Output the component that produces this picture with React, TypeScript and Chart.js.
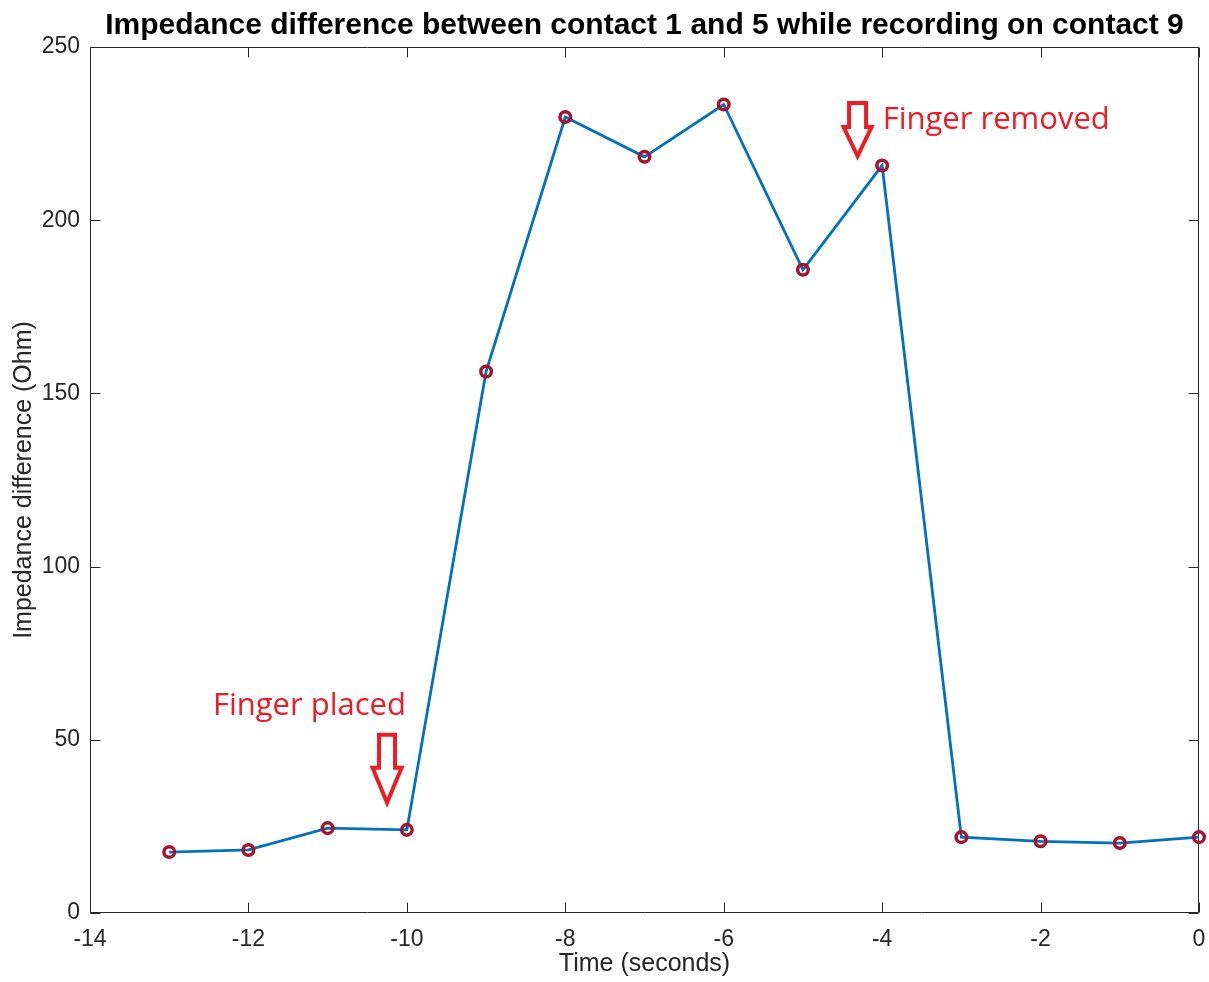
import React, { useEffect, useRef } from 'react';
import { Chart, registerables } from 'chart.js';

Chart.register(...registerables);

// ---- data ----
const timeSeconds = [-13, -12, -11, -10, -9, -8, -7, -6, -5, -4, -3, -2, -1, 0];
const impedanceOhm = [17.6, 18.2, 24.5, 24.0, 156.3, 229.8, 218.3, 233.4, 185.7, 215.8, 21.9, 20.7, 20.2, 21.9];
const xTicks = [-14, -12, -10, -8, -6, -4, -2, 0];
const yTicks = [0, 50, 100, 150, 200, 250];

const titleText = 'Impedance difference between contact 1 and 5 while recording on contact 9';
const xLabel = 'Time (seconds)';
const yLabel = 'Impedance difference (Ohm)';

// annotations (data coordinates)
const noteTexts = ['Finger placed', 'Finger removed'];
const noteX = [-11.23, -2.56];
const noteY = [59.8, 228.9];
const arrowTipX = [-10.25, -4.31];
const arrowTipY = [31.8, 218.5];

const AXIS_COLOR = '#262626';
const NOTE_COLOR = '#ED1C24';

// arrow shapes in pixels: [totalHeight, shaftWidth, headWidth, headHeight]
const arrowShapes = [
  [68, 16, 29, 35],
  [53, 17, 28, 29],
];

const framePlugin = {
  id: 'frame',
  beforeDatasetsDraw(chart: any) {
    const { ctx, chartArea, scales } = chart;
    const { left, right, top, bottom } = chartArea;
    const x = scales.x;
    const y = scales.y;
    ctx.save();
    ctx.strokeStyle = AXIS_COLOR;
    ctx.lineWidth = 1;
    const L = Math.round(left) + 0.5;
    const R = Math.round(right) - 0.5;
    const T = Math.round(top) + 0.5;
    const B = Math.round(bottom) - 0.5;
    ctx.beginPath();
    ctx.rect(L, T, R - L, B - T);
    const tl = 10;
    xTicks.forEach((v) => {
      const px = Math.round(x.getPixelForValue(v)) + 0.5;
      ctx.moveTo(px, B);
      ctx.lineTo(px, B - tl);
      ctx.moveTo(px, T);
      ctx.lineTo(px, T + tl);
    });
    yTicks.forEach((v) => {
      const py = Math.round(y.getPixelForValue(v)) + 0.5;
      ctx.moveTo(L, py);
      ctx.lineTo(L + tl, py);
      ctx.moveTo(R, py);
      ctx.lineTo(R - tl, py);
    });
    ctx.stroke();
    ctx.restore();
  },
  afterDraw(chart: any) {
    const { ctx, chartArea, scales } = chart;
    const x = scales.x;
    const y = scales.y;
    ctx.save();
    // title
    ctx.fillStyle = '#000000';
    ctx.font = 'bold 30px "Liberation Sans", Arial, sans-serif';
    ctx.textAlign = 'center';
    ctx.textBaseline = 'middle';
    ctx.fillText(titleText, (chartArea.left + chartArea.right) / 2, 26);

    // notes
    ctx.fillStyle = NOTE_COLOR;
    ctx.font = '31px "Open Sans", sans-serif';
    noteTexts.forEach((t, i) => {
      ctx.fillText(t, x.getPixelForValue(noteX[i]), y.getPixelForValue(noteY[i]));
    });

    // arrows (outlined)
    ctx.strokeStyle = NOTE_COLOR;
    ctx.lineWidth = 4;
    ctx.lineJoin = 'miter';
    arrowTipX.forEach((tx, i) => {
      const [h, sw, hw, hh] = arrowShapes[i];
      const px = x.getPixelForValue(tx);
      const py = y.getPixelForValue(arrowTipY[i]);
      ctx.beginPath();
      ctx.moveTo(px, py);
      ctx.lineTo(px - hw / 2, py - hh);
      ctx.lineTo(px - sw / 2, py - hh);
      ctx.lineTo(px - sw / 2, py - h);
      ctx.lineTo(px + sw / 2, py - h);
      ctx.lineTo(px + sw / 2, py - hh);
      ctx.lineTo(px + hw / 2, py - hh);
      ctx.closePath();
      ctx.stroke();
    });
    ctx.restore();
  },
};

export default function App() {
  const ref = useRef<HTMLCanvasElement>(null);
  useEffect(() => {
    document.body.style.margin = '0';
    const canvas = ref.current;
    if (!canvas) return;
    const chart = new Chart(canvas, {
      type: 'line',
      data: {
        datasets: [
          {
            data: timeSeconds.map((t, i) => ({ x: t, y: impedanceOhm[i] })),
            borderColor: '#0072BD',
            borderWidth: 2.8,
            backgroundColor: 'rgba(0,0,0,0)',
            pointRadius: 5.3,
            pointBorderWidth: 3.5,
            pointBorderColor: '#A2142F',
            pointBackgroundColor: 'rgba(0,0,0,0)',
            tension: 0,
            clip: false as any,
          },
        ],
      },
      options: {
        animation: false,
        responsive: false,
        maintainAspectRatio: false,
        devicePixelRatio: 1,
        layout: { padding: { top: 47, right: 10, left: 0, bottom: 0 } },
        plugins: { legend: { display: false }, tooltip: { enabled: false }, title: { display: false } },
        scales: {
          x: {
            type: 'linear',
            min: -14,
            max: 0,
            afterBuildTicks: (s: any) => {
              s.ticks = xTicks.map((v) => ({ value: v }));
            },
            afterFit: (s: any) => {
              s.height = 69;
              s.paddingLeft = 0;
              s.paddingRight = 0;
            },
            grid: { display: false, drawTicks: false },
            border: { display: false },
            ticks: {
              color: AXIS_COLOR,
              font: { family: '"Liberation Sans", Arial, sans-serif', size: 23 },
              padding: 13,
              maxRotation: 0,
              autoSkip: false,
            },
            title: {
              display: true,
              text: xLabel,
              color: AXIS_COLOR,
              font: { family: '"Liberation Sans", Arial, sans-serif', size: 25 },
              padding: { top: 0, bottom: 3 },
            },
          },
          y: {
            type: 'linear',
            min: 0,
            max: 250,
            afterBuildTicks: (s: any) => {
              s.ticks = yTicks.map((v) => ({ value: v }));
            },
            afterFit: (s: any) => {
              s.width = 90;
              s.paddingTop = 0;
              s.paddingBottom = 0;
            },
            grid: { display: false, drawTicks: false },
            border: { display: false },
            ticks: {
              color: AXIS_COLOR,
              font: { family: '"Liberation Sans", Arial, sans-serif', size: 23 },
              padding: 10,
              autoSkip: false,
            },
            title: {
              display: true,
              text: yLabel,
              color: AXIS_COLOR,
              font: { family: '"Liberation Sans", Arial, sans-serif', size: 25 },
              padding: { top: 9, bottom: 0 },
            },
          },
        },
      },
      plugins: [framePlugin],
    } as any);
    return () => chart.destroy();
  }, []);
  return (
    <div style={{ width: 1209, height: 982, position: 'relative', background: '#ffffff' }}>
      <canvas ref={ref} width={1209} height={982} style={{ display: 'block', width: 1209, height: 982 }} />
    </div>
  );
}
